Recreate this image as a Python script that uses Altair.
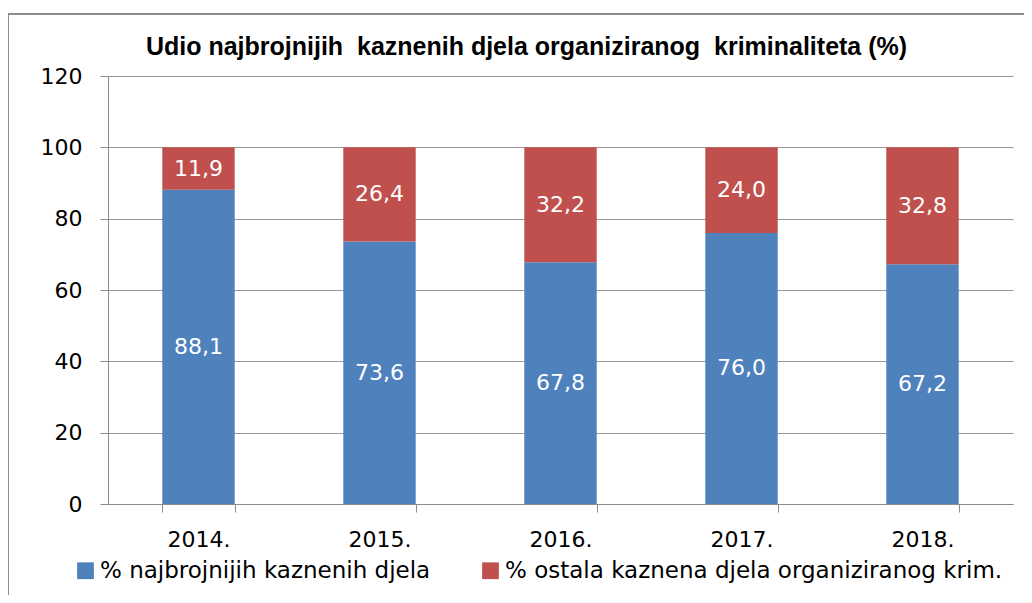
import altair as alt
import pandas as pd

years = ["2014.", "2015.", "2016.", "2017.", "2018."]
main_share = [88.1, 73.6, 67.8, 76.0, 67.2]
other_share = [11.9, 26.4, 32.2, 24.0, 32.8]
series = ["% najbrojnijih kaznenih djela", "% ostala kaznena djela organiziranog krim."]
colors = ["#4F81BD", "#C0504D"]
y_ticks = [0, 20, 40, 60, 80, 100, 120]
title_text = "Udio najbrojnijih\u00a0 kaznenih djela organiziranog\u00a0 kriminaliteta (%)"

rows = []
for i, yr in enumerate(years):
    rows.append({"year": yr, "series": series[0], "value": main_share[i], "order": 0})
    rows.append({"year": yr, "series": series[1], "value": other_share[i], "order": 1})
df = pd.DataFrame(rows)
df["label"] = df["value"].map(lambda v: f"{v:.1f}".replace(".", ","))

W, H = 905, 428
FONT = "DejaVu Sans"
FS = 22
LFS = 23

x_enc = alt.X("year:N", sort=years, title=None,
              scale=alt.Scale(paddingInner=0.6, paddingOuter=0.3),
              axis=alt.Axis(labelAngle=0, tickBand="extent", tickSize=8, tickColor="#8c8c8c",
                            domainColor="#8c8c8c", labelFontSize=FS, labelFont=FONT,
                            labelColor="#000000", labelPadding=17, grid=False))

base = alt.Chart(df).transform_stack(
    stack="value", as_=["y0", "y1"], groupby=["year"], sort=[alt.SortField("order")]
).transform_calculate(mid="(datum.y0 + datum.y1) / 2")

bars = base.mark_bar().encode(
    x=x_enc,
    y=alt.Y("y0:Q", title=None,
            scale=alt.Scale(domain=[0, 120], nice=False),
            axis=alt.Axis(values=y_ticks, tickSize=8, tickColor="#8c8c8c", domainColor="#8c8c8c",
                          gridColor="#999999", gridWidth=1.2, labelFontSize=FS, labelFont=FONT,
                          labelColor="#000000", labelPadding=18)),
    y2="y1:Q",
    color=alt.Color("series:N", sort=series,
                    scale=alt.Scale(domain=series, range=colors),
                    legend=alt.Legend(title=None, orient="none", direction="horizontal",
                                      legendX=-34, legendY=483, symbolType="square",
                                      symbolSize=280, symbolStrokeWidth=0, labelFontSize=LFS,
                                      labelFont=FONT, labelColor="#000000", columnPadding=48,
                                      labelOffset=3, labelLimit=700)),
    order=alt.Order("order:Q"),
)

labels = base.mark_text(color="white", fontSize=FS, font=FONT).encode(
    x=alt.X("year:N", sort=years),
    y=alt.Y("mid:Q"),
    text="label:N",
)

one = alt.Data(values=[{"k": 1}])

title = alt.Chart(one).mark_text(font="Liberation Sans", fontSize=25, fontWeight="bold",
                                 color="#000000", align="center", baseline="middle").encode(
    x=alt.value(W / 2 - 34), y=alt.value(-29), text=alt.value(title_text))

frame_top = alt.Chart(one).mark_rule(color="#8c8c8c", strokeWidth=2).encode(
    x=alt.value(-100), x2=alt.value(W + 100), y=alt.value(-62))
frame_left = alt.Chart(one).mark_rule(color="#8c8c8c", strokeWidth=2).encode(
    x=alt.value(-100), y=alt.value(-62), y2=alt.value(H + 200))

chart = alt.layer(frame_top, frame_left, bars, labels, title).properties(
    width=W, height=H,
    autosize=alt.AutoSizeParams(type="none"),
    padding={"left": 100, "top": 68, "right": 11, "bottom": 91},
).configure_view(stroke=None)

chart.save("out.html", embed_options={"renderer": "svg", "actions": False})
